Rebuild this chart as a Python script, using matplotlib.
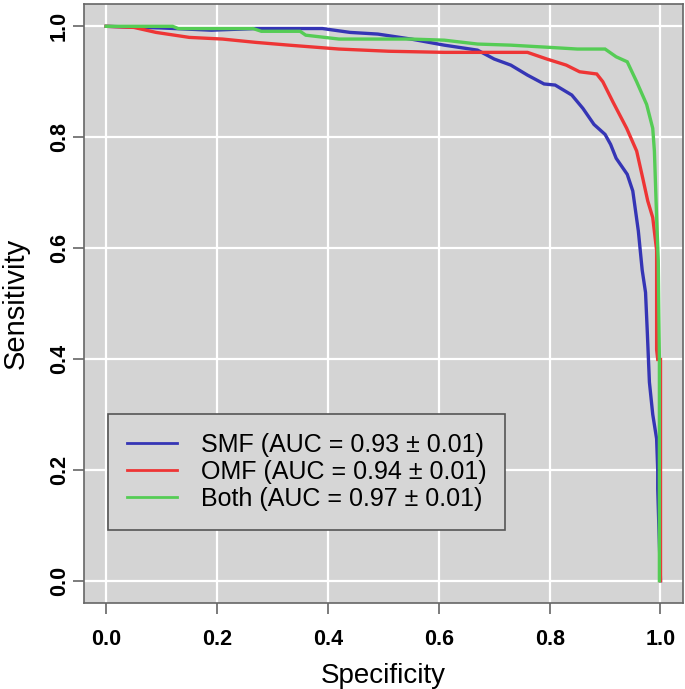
import numpy as np
import matplotlib.pyplot as plt

# ROC curves (specificity, sensitivity)
smf_spec = [0.0, 0.10, 0.19, 0.27, 0.39, 0.44, 0.49, 0.55, 0.61, 0.67, 0.70, 0.73, 0.76,
            0.79, 0.81, 0.84, 0.86, 0.88, 0.90, 0.91, 0.92, 0.94, 0.95, 0.96, 0.967,
            0.973, 0.976, 0.98, 0.986, 0.993, 0.995, 0.995, 1.0]
smf_sens = [1.0, 0.997, 0.993, 0.996, 0.996, 0.989, 0.986, 0.977, 0.966, 0.957, 0.941, 0.93, 0.912,
            0.896, 0.894, 0.876, 0.852, 0.823, 0.805, 0.787, 0.762, 0.733, 0.703, 0.631, 0.56,
            0.52, 0.453, 0.358, 0.30, 0.256, 0.20, 0.166, 0.0]

omf_spec = [0.0, 0.05, 0.09, 0.15, 0.21, 0.27, 0.33, 0.42, 0.51, 0.61, 0.76, 0.795, 0.83,
            0.854, 0.885, 0.896, 0.914, 0.939, 0.957, 0.968, 0.977, 0.986, 0.993, 0.993, 0.995, 1.0, 1.0]
omf_sens = [1.0, 0.998, 0.989, 0.98, 0.977, 0.971, 0.966, 0.959, 0.955, 0.953, 0.953, 0.941, 0.93,
            0.918, 0.914, 0.90, 0.864, 0.816, 0.775, 0.726, 0.685, 0.655, 0.596, 0.417, 0.399, 0.399, 0.0]

both_spec = [0.0, 0.12, 0.13, 0.265, 0.28, 0.35, 0.36, 0.42, 0.51, 0.55, 0.61, 0.67, 0.73,
             0.80, 0.85, 0.90, 0.92, 0.94, 0.957, 0.975, 0.986, 0.989, 0.993, 0.996, 0.998, 0.998]
both_sens = [1.0, 1.0, 0.996, 0.996, 0.991, 0.991, 0.984, 0.977, 0.977, 0.977, 0.975, 0.968, 0.966,
             0.962, 0.959, 0.959, 0.945, 0.936, 0.90, 0.859, 0.816, 0.775, 0.655, 0.578, 0.40, 0.0]

labels = ['SMF (AUC = 0.93 \u00b1 0.01)', 'OMF (AUC = 0.94 \u00b1 0.01)', 'Both (AUC = 0.97 \u00b1 0.01)']
colors = ['#3535b5', '#ee3535', '#55cc55']
ticks = [0.0, 0.2, 0.4, 0.6, 0.8, 1.0]

plt.rcParams['font.family'] = ['Liberation Sans', 'DejaVu Sans']

fig = plt.figure(figsize=(6.85, 6.89), dpi=100)
ax = fig.add_axes([0.1226, 0.125, 0.874, 0.869])
ax.set_facecolor('#d4d4d4')

for t in ticks:
    ax.axvline(t, color='white', lw=1.6, zorder=0)
    ax.axhline(t, color='white', lw=1.6, zorder=0)

for xs, ys, c, lab in zip([smf_spec, omf_spec, both_spec], [smf_sens, omf_sens, both_sens], colors, labels):
    ax.plot(xs, ys, color=c, lw=2.4, label=lab, solid_joinstyle='miter')

ax.set_xlim(-0.04, 1.04)
ax.set_ylim(-0.04, 1.04)
ax.set_xticks(ticks)
ax.set_yticks(ticks)
ax.set_xticklabels([f'{t:.1f}' for t in ticks], fontsize=15.5, fontweight='semibold')
ax.set_yticklabels([f'{t:.1f}' for t in ticks], fontsize=15.5, fontweight='semibold',
                   rotation=90, va='center')
ax.tick_params(length=8, width=1.2, color='#666666')
ax.tick_params(axis='x', pad=11)
ax.tick_params(axis='y', pad=2)
for s in ax.spines.values():
    s.set_color('#666666')
    s.set_linewidth(1.2)

ax.set_xlabel('Specificity', fontsize=20, labelpad=9)
ax.set_ylabel('Sensitivity', fontsize=21)
ax.yaxis.set_label_coords(-0.091, 0.5)

leg = ax.legend(loc='lower left', bbox_to_anchor=(0.0407, 0.122), borderaxespad=0,
                fontsize=18, frameon=True, fancybox=False, handlelength=2.0,
                handletextpad=0.95, labelspacing=0.12, borderpad=0.75)
leg.get_frame().set_facecolor('#d6d6d6')
leg.get_frame().set_edgecolor('#555555')
leg.get_frame().set_linewidth(1.2)
leg.get_frame().set_alpha(1)
for h in leg.get_lines():
    h.set_linewidth(2)

fig.savefig('out.png', dpi=100)
